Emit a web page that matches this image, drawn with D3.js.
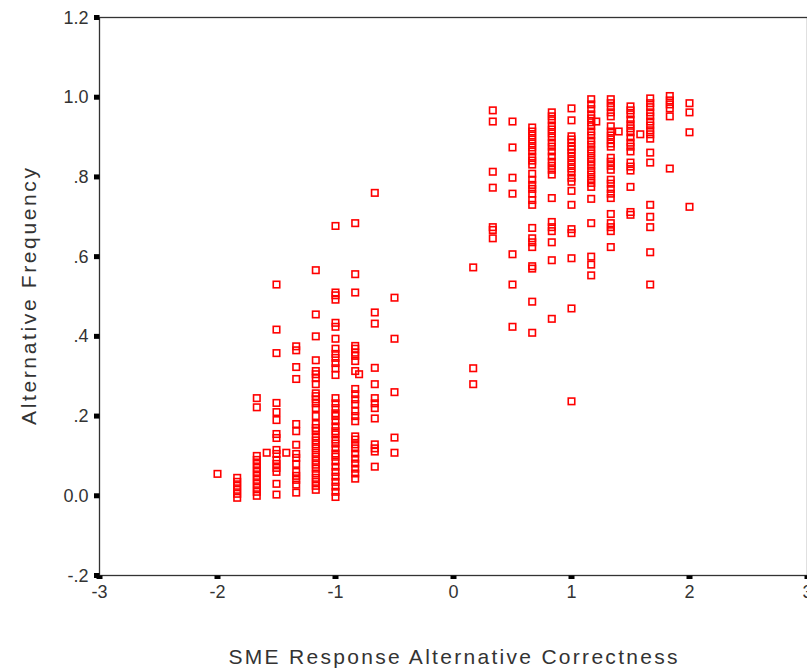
<!DOCTYPE html>
<html>
<head>
<meta charset="utf-8">
<script src="https://d3js.org/d3.v7.min.js"></script>
<style>
  html, body { margin: 0; padding: 0; background: #fff; }
  svg { display: block; }
  text { font-family: "Liberation Sans", Arial, sans-serif; fill: #333; }
</style>
</head>
<body>
<svg id="chart" width="807" height="670"></svg>
<script>
// ---- data ----
const xTicks = [-3, -2, -1, 0, 1, 2, 3];
const xTickLabels = ["-3", "-2", "-1", "0", "1", "2", "3"];
const yTicks = [-0.2, 0, 0.2, 0.4, 0.6, 0.8, 1.0, 1.2];
const yTickLabels = ["-.2", "0.0", ".2", ".4", ".6", ".8", "1.0", "1.2"];
const xTitle = "SME Response Alternative Correctness";
const yTitle = "Alternative Frequency";

// x positions of the point columns
const xCols = [-2.0, -1.833, -1.667, -1.583, -1.5, -1.417, -1.333, -1.167, -1.0, -0.833, -0.8, -0.667, -0.5,
               0.167, 0.333, 0.5, 0.667, 0.833, 1.0, 1.167, 1.21, 1.333, 1.4, 1.5, 1.583, 1.667, 1.833, 2.0];
// y values for each column (same order as xCols)
const yByCol = [
  [0.055],
  [0.045, 0.035, 0.025, 0.015, 0.005, -0.005],
  [0.245, 0.222, 0.10, 0.09, 0.08, 0.07, 0.06, 0.05, 0.04, 0.03, 0.02, 0.01, 0.0],
  [0.108],
  [0.53, 0.417, 0.358, 0.233, 0.21, 0.19, 0.155, 0.145, 0.115, 0.105, 0.09, 0.08, 0.07, 0.06, 0.03, 0.003],
  [0.108],
  [0.375, 0.365, 0.323, 0.293, 0.18, 0.162, 0.128, 0.105, 0.095, 0.08, 0.06, 0.05, 0.04, 0.028, 0.008],
  [0.566, 0.455, 0.40, 0.34, 0.313, 0.305, 0.295, 0.28, 0.257, 0.25, 0.242, 0.232, 0.22, 0.2, 0.18, 0.17, 0.162,
   0.149, 0.139, 0.129, 0.119, 0.108, 0.098, 0.088, 0.078, 0.068, 0.056, 0.045, 0.035, 0.025, 0.015],
  [0.677, 0.51, 0.503, 0.492, 0.434, 0.424, 0.394, 0.369, 0.356, 0.346, 0.333, 0.32, 0.303, 0.245, 0.232, 0.22,
   0.207, 0.2, 0.187, 0.174, 0.162, 0.154, 0.141, 0.131, 0.119, 0.106, 0.098, 0.086, 0.073, 0.06, 0.048, 0.035,
   0.023, 0.01, -0.003],
  [0.684, 0.556, 0.51, 0.376, 0.369, 0.359, 0.351, 0.338, 0.313, 0.268, 0.255, 0.242, 0.23, 0.212, 0.2, 0.187,
   0.149, 0.141, 0.129, 0.119, 0.106, 0.093, 0.081, 0.068, 0.056, 0.043],
  [0.305],
  [0.76, 0.46, 0.432, 0.321, 0.28, 0.245, 0.232, 0.22, 0.194, 0.129, 0.119, 0.111, 0.073],
  [0.497, 0.394, 0.26, 0.146, 0.108],
  [0.573, 0.32, 0.28],
  [0.967, 0.939, 0.813, 0.773, 0.674, 0.667, 0.646],
  [0.939, 0.874, 0.798, 0.758, 0.606, 0.53, 0.424],
  [0.924, 0.914, 0.904, 0.894, 0.884, 0.874, 0.864, 0.851, 0.841, 0.831, 0.808, 0.793, 0.78, 0.77, 0.758, 0.742,
   0.73, 0.672, 0.646, 0.636, 0.624, 0.576, 0.57, 0.487, 0.409],
  [0.962, 0.952, 0.942, 0.929, 0.919, 0.909, 0.899, 0.886, 0.876, 0.864, 0.851, 0.838, 0.828, 0.818, 0.806, 0.747,
   0.687, 0.674, 0.664, 0.636, 0.591, 0.444],
  [0.972, 0.942, 0.902, 0.894, 0.886, 0.876, 0.869, 0.861, 0.851, 0.841, 0.831, 0.821, 0.811, 0.798, 0.788, 0.765,
   0.73, 0.669, 0.659, 0.596, 0.47, 0.237],
  [0.995, 0.982, 0.97, 0.957, 0.947, 0.937, 0.927, 0.914, 0.904, 0.891, 0.881, 0.869, 0.859, 0.848, 0.838, 0.828,
   0.816, 0.806, 0.795, 0.785, 0.775, 0.745, 0.684, 0.6, 0.58, 0.553],
  [0.939],
  [0.995, 0.985, 0.975, 0.962, 0.952, 0.927, 0.914, 0.904, 0.894, 0.884, 0.876, 0.848, 0.838, 0.828, 0.818, 0.793,
   0.783, 0.77, 0.758, 0.747, 0.707, 0.684, 0.674, 0.664, 0.624],
  [0.914],
  [0.977, 0.967, 0.957, 0.944, 0.932, 0.922, 0.912, 0.899, 0.886, 0.876, 0.864, 0.836, 0.826, 0.816, 0.775, 0.712, 0.705],
  [0.907],
  [0.997, 0.985, 0.975, 0.962, 0.952, 0.939, 0.929, 0.917, 0.907, 0.896, 0.861, 0.836, 0.73, 0.7, 0.674, 0.611, 0.53],
  [1.003, 0.992, 0.982, 0.972, 0.952, 0.821],
  [0.985, 0.962, 0.912, 0.725]
];

// ---- layout ----
const svg = d3.select("#chart");
const plot = { left: 99.5, right: 807.5, top: 17.5, bottom: 575.5 };

const x = d3.scaleLinear().domain([-3, 3]).range([plot.left, plot.right]);
const y = d3.scaleLinear().domain([-0.2, 1.2]).range([plot.bottom, plot.top]);

const points = [];
xCols.forEach((xv, i) => yByCol[i].forEach(yv => points.push({ x: xv, y: yv })));

// points
const s = 6.5;
svg.append("g")
  .selectAll("rect")
  .data(points)
  .join("rect")
  .attr("x", d => x(d.x) - s / 2)
  .attr("y", d => y(d.y) - s / 2)
  .attr("width", s)
  .attr("height", s)
  .attr("fill", "none")
  .attr("stroke", "#ff0000")
  .attr("stroke-width", 1.6);

// frame
svg.append("rect")
  .attr("x", plot.left).attr("y", plot.top)
  .attr("width", plot.right - plot.left).attr("height", plot.bottom - plot.top)
  .attr("fill", "none").attr("stroke", "#333").attr("stroke-width", 1.3);

// y axis ticks and labels
const gy = svg.append("g");
gy.selectAll("rect")
  .data(yTicks)
  .join("rect")
  .attr("x", plot.left - 5.5)
  .attr("y", d => y(d) - 2.5)
  .attr("width", 5.5)
  .attr("height", 5)
  .attr("fill", "#000");
gy.selectAll("text")
  .data(yTicks)
  .join("text")
  .attr("x", plot.left - 11)
  .attr("y", d => y(d) + 6)
  .attr("text-anchor", "end")
  .attr("font-size", 18)
  .text((d, i) => yTickLabels[i]);

// x axis ticks and labels
const gx = svg.append("g");
gx.selectAll("rect")
  .data(xTicks)
  .join("rect")
  .attr("x", d => x(d) - 3)
  .attr("y", plot.bottom)
  .attr("width", 6)
  .attr("height", 3.5)
  .attr("fill", "#000");
gx.selectAll("text")
  .data(xTicks)
  .join("text")
  .attr("x", d => x(d))
  .attr("y", plot.bottom + 22)
  .attr("text-anchor", "middle")
  .attr("font-size", 18)
  .text((d, i) => xTickLabels[i]);

// titles
svg.append("text")
  .attr("x", 453)
  .attr("y", 664)
  .attr("text-anchor", "middle")
  .attr("font-size", 21)
  .attr("textLength", 449)
  .attr("lengthAdjust", "spacing")
  .text(xTitle);

svg.append("text")
  .attr("transform", "translate(36,296.5) rotate(-90)")
  .attr("text-anchor", "middle")
  .attr("font-size", 21)
  .attr("textLength", 257)
  .attr("lengthAdjust", "spacing")
  .text(yTitle);
</script>
</body>
</html>
